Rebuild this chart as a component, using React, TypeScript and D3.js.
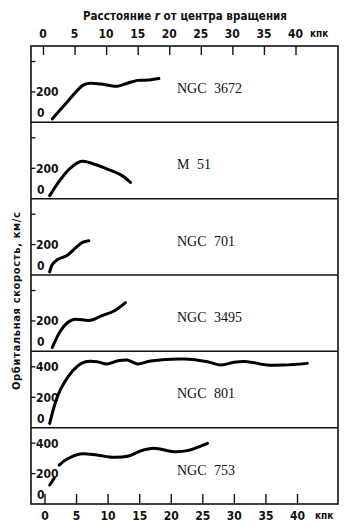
import * as d3 from "d3";

// distance from the centre of rotation, kpc
const kpcTicks = [0, 5, 10, 15, 20, 25, 30, 35, 40];

const galaxyNames = ["NGC 3672", "M 51", "NGC 701", "NGC 3495", "NGC 801", "NGC 753"];

// rotation curves: r (kpc) and v (km/s)
const ngc3672R = [1.3, 3.5, 6.2, 7.4, 9, 11.6, 13.2, 14.8, 16.4, 18.2];
const ngc3672V = [22, 125, 245, 257, 252, 237, 257, 276, 278, 289];

const m51R = [0.9, 2.6, 4.2, 5.8, 7.4, 10, 12.1, 13.7];
const m51V = [20, 125, 202, 245, 235, 195, 158, 107];

const ngc701R = [0.9, 1.3, 2.1, 3.7, 5, 6.1, 7.1];
const ngc701V = [20, 68, 100, 130, 178, 215, 226];

const ngc3495R = [1.3, 2.6, 3.7, 4.7, 7.4, 9, 11.1, 12.9];
const ngc3495V = [24, 134, 188, 210, 204, 232, 265, 320];

const ngc801R = [0.9, 2.6, 5.3, 6.6, 8.4, 10, 11.6, 13.2, 14.8, 16.9, 22.2, 25.9, 28, 30.1, 32.2, 35.4, 38, 41.7];
const ngc801V = [28, 250, 405, 434, 434, 419, 439, 445, 419, 439, 452, 434, 412, 430, 434, 412, 412, 423];

// NGC 753 has a short separate piece near the centre
const ngc753InnerR = [0.9, 1.6];
const ngc753InnerV = [125, 169];
const ngc753R = [2.4, 3.6, 5.7, 8.4, 11, 13.4, 15.3, 17.4, 20.6, 22.7, 25.9];
const ngc753V = [256, 294, 329, 322, 307, 316, 349, 366, 344, 351, 399];

const tickMarks = [200, 400];
const labelsLow = [0, 200];
const labelsHigh = [0, 200, 400];

const zip = (r: number[], v: number[]) => r.map((d, i) => [d, v[i]] as [number, number]);

const segments: [number, number][][][] = [
  [zip(ngc3672R, ngc3672V)],
  [zip(m51R, m51V)],
  [zip(ngc701R, ngc701V)],
  [zip(ngc3495R, ngc3495V)],
  [zip(ngc801R, ngc801V)],
  [zip(ngc753InnerR, ngc753InnerV), zip(ngc753R, ngc753V)],
];
const panelLabels = [labelsLow, labelsLow, labelsLow, labelsLow, labelsHigh, labelsHigh];

const W = 352, H = 531;
const left = 31, right = 338, top = 46, bottom = 504;
const tickFont = "'DejaVu Sans Condensed', 'Liberation Sans Narrow', 'DejaVu Sans', sans-serif";

export default function App() {
  const x = d3.scaleLinear().domain([0, 40]).range([44, 296.5]);
  const band = d3.scaleBand().domain(galaxyNames).range([top, bottom]);
  const h = band.bandwidth();

  return (
    <svg width={W} height={H} style={{ display: "block", position: "absolute", left: 0, top: 0, background: "#fff" }}>
      {/* title */}
      <text x={83} y={20} fontFamily={tickFont} fontSize={11.5} fontWeight={600} textLength={204} lengthAdjust="spacing" fill="#111">
        Расстояние <tspan fontStyle="italic">r</tspan> от центра вращения
      </text>

      {/* top and bottom axis labels */}
      {kpcTicks.map((t) => (
        <g key={t}>
          <text x={x(t) - 1} y={37.5} textAnchor="middle" fontFamily={tickFont} fontSize={12} fontWeight={600} fill="#111">{t}</text>
          <text x={x(t) + 1} y={520} textAnchor="middle" fontFamily={tickFont} fontSize={12} fontWeight={600} fill="#111">{t}</text>
          <line x1={x(t) - 0.5} x2={x(t) - 0.5} y1={top} y2={top + 9} stroke="#111" strokeWidth={1.4} />
          <line x1={x(t) + 1} x2={x(t) + 1} y1={bottom} y2={bottom - 10} stroke="#111" strokeWidth={1.4} />
        </g>
      ))}
      <text x={310} y={37} fontFamily={tickFont} fontSize={10} fontWeight={600} fill="#111">кпк</text>
      <text x={315} y={519} fontFamily={tickFont} fontSize={10} fontWeight={600} fill="#111">кпк</text>

      {/* y axis title */}
      <text transform="translate(20,301) rotate(-90)" textAnchor="middle" fontFamily={tickFont} fontSize={11}
        fontWeight={600} textLength={178} lengthAdjust="spacing" fill="#111">
        Орбитальная скорость, км/с
      </text>

      {galaxyNames.map((name, i) => {
        const y0 = band(name)!;
        const y = d3.scaleLinear().domain([0, 500]).range([y0 + h, y0 + h - 76]);
        const line = d3.line<[number, number]>()
          .x((d) => x(d[0]))
          .y((d) => y(d[1]))
          .curve(d3.curveCatmullRom.alpha(0.5));
        return (
          <g key={name}>
            {i > 0 && <line x1={left} x2={right} y1={y0} y2={y0} stroke="#111" strokeWidth={1.5} />}
            {tickMarks.map((t) => (
              <line key={t} x1={left} x2={left + 4.5} y1={y(t)} y2={y(t)} stroke="#111" strokeWidth={1.3} />
            ))}
            {panelLabels[i].map((t) => (
              <text key={t} x={t === 0 ? left + 6 : left + 5} y={t === 0 ? y0 + h - 5 : y(t) + 4.5}
                fontFamily={tickFont} fontSize={12} fontWeight={600} fill="#111">{t}</text>
            ))}
            {segments[i].map((seg, k) => (
              <path key={k} d={line(seg)!} fill="none" stroke="#000" strokeWidth={3} strokeLinecap="round" />
            ))}
            <text x={177} y={y0 + 42 + 5} fontFamily="'Liberation Serif', 'DejaVu Serif', serif" fontSize={14}
              wordSpacing={4} fill="#111">{name}</text>
          </g>
        );
      })}

      {/* frame */}
      <rect x={left} y={top} width={right - left} height={bottom - top} fill="none" stroke="#111" strokeWidth={1.6} />
    </svg>
  );
}
